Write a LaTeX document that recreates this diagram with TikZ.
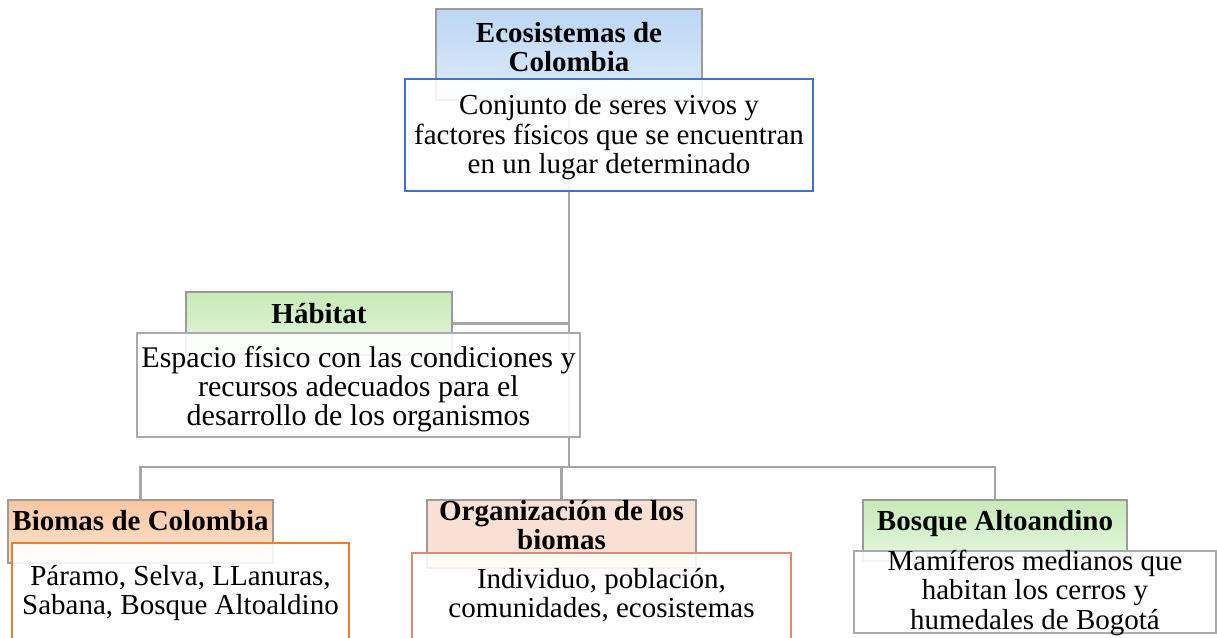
\documentclass[tikz,border=0pt]{standalone}
\usepackage{fontspec}
\setmainfont{Liberation Serif}
\usetikzlibrary{backgrounds}
\newcommand{\vlines}[1]{\vtop{\halign{\hfil##\hfil\cr#1\crcr}}}
\definecolor{linkgray}{RGB}{166,166,166}
\definecolor{titlegray}{RGB}{155,155,155}
\definecolor{bodygray}{RGB}{170,170,170}
\definecolor{bodyblue}{RGB}{68,114,196}
\definecolor{bodyorange}{RGB}{237,125,49}
\definecolor{bodysalmon}{RGB}{224,138,112}
\definecolor{blueTop}{RGB}{188,214,243}
\definecolor{blueBot}{RGB}{221,235,250}
\definecolor{greenTop}{RGB}{198,234,183}
\definecolor{greenBot}{RGB}{230,246,222}
\definecolor{peachTop}{RGB}{250,198,160}
\definecolor{peachBot}{RGB}{253,228,210}
\definecolor{salmonFill}{RGB}{248,225,212}
\begin{document}
\begin{tikzpicture}[x=1pt,y=-1pt,
  titlebox/.style={draw=titlegray, line width=1.3pt, inner sep=0pt, outer sep=0pt,
    anchor=north west, font=\fontsize{29}{29}\selectfont\bfseries},
  bodybox/.style={fill=white, fill opacity=0.88, text opacity=1, line width=1.2pt,
    inner sep=0pt, outer sep=0pt, anchor=north west, font=\fontsize{29}{29.5}\selectfont},
  link/.style={draw=linkgray, line width=2.5pt}]
\useasboundingbox (0,0) rectangle (1217,637);
\clip (0,0) rectangle (1217,637);
% coordinate of the horizontal bus
\coordinate (bus) at (568,467);
% title boxes
\node[titlebox, top color=blueTop, bottom color=blueBot, minimum width=266pt,
  text height=33pt, text depth=58pt] (t1) at (436,9) {\vlines{Ecosistemas de\cr Colombia}};
\node[titlebox, top color=greenTop, bottom color=greenBot, minimum width=266pt,
  text height=31pt, text depth=32pt] (t2) at (186,292) {\vlines{Hábitat}};
\node[titlebox, top color=peachTop, bottom color=peachBot, minimum width=265pt,
  text height=30pt, text depth=33pt] (t3) at (8,500) {\vlines{Biomas de Colombia}};
\node[titlebox, fill=salmonFill, minimum width=269pt,
  text height=20pt, text depth=48pt] (t4) at (427,500) {\vlines{Organización de los\cr biomas}};
\node[titlebox, top color=greenTop, bottom color=greenBot, minimum width=264pt,
  text height=30pt, text depth=31pt] (t5) at (863,500) {\vlines{Bosque Altoandino}};
% body boxes
\node[bodybox, draw=bodyblue, minimum width=408pt, text height=35.5pt, text depth=76.5pt]
  (b1) at (405,79) {\vlines{Conjunto de seres vivos y\cr factores físicos que se encuentran\cr en un lugar determinado}};
\node[bodybox, draw=bodygray, minimum width=443pt, text height=34.5pt, text depth=69.5pt,
  font=\fontsize{30}{29}\selectfont]
  (b2) at (137,333) {\vlines{Espacio físico con las condiciones y\cr recursos adecuados para el\cr desarrollo de los organismos}};
\node[bodybox, draw=bodyorange, minimum width=337pt, text height=42pt, text depth=60pt]
  (b3) at (12,543) {\vlines{Páramo, Selva, LLanuras,\cr Sabana, Bosque Altoaldino}};
\node[bodybox, draw=bodysalmon, minimum width=379pt, text height=35pt, text depth=57pt]
  (b4) at (412,553) {\vlines{Individuo, población,\cr comunidades, ecosistemas}};
\node[bodybox, draw=bodygray, minimum width=362pt, text height=19pt, text depth=63pt]
  (b5) at (854,551) {\vlines{Mamíferos medianos que\cr habitan los cerros y\cr humedales de Bogotá}};
% connectors behind the boxes
\begin{scope}[on background layer]
  \draw[link] (t1.center) -- (t1.center |- bus);
  \draw[link] (t2.east) -- (t2.east -| t1.center);
  \draw[link, line join=miter] (t3.north) -- (t3.north |- bus) -- (t5.north |- bus) -- (t5.north);
  \draw[link] (t4.north) -- (t4.north |- bus);
\end{scope}
\end{tikzpicture}
\end{document}
